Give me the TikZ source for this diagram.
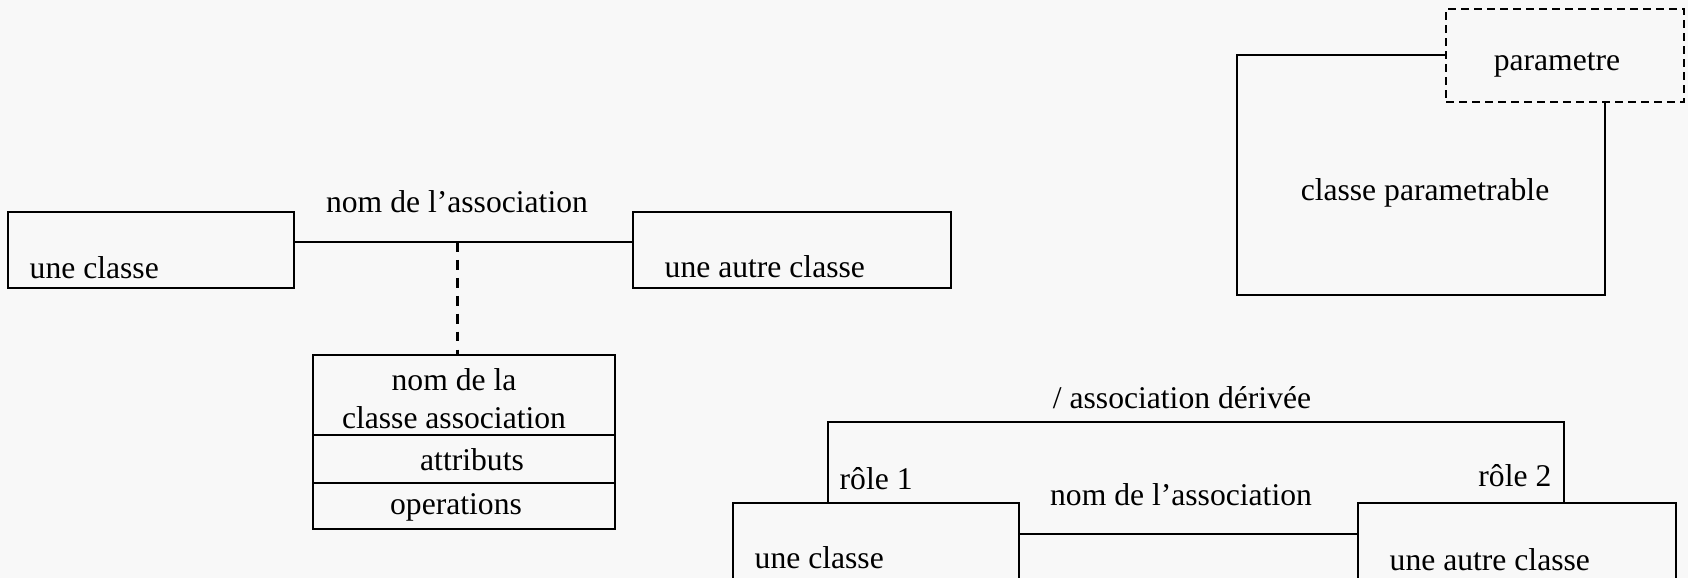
\documentclass[tikz,border=0pt]{standalone}
\usepackage{fontspec}
\setmainfont{Liberation Serif}
\usetikzlibrary{positioning, calc}
\definecolor{fondgris}{HTML}{F8F8F8}

\begin{document}
\begin{tikzpicture}[
    every node/.style={font=\fontsize{9}{10.8}\selectfont},
    classe/.style={rectangle, draw, line width=0.75pt, inner sep=0pt, fill=fondgris},
    txt/.style={inner sep=0pt, align=center},
    lien/.style={line width=0.75pt},
    pointille/.style={line width=0.75pt, dash pattern=on 2.8pt off 2.3pt}
]
\clip (0,0) rectangle (16.88,-5.78);
\fill[fondgris] (0,0) rectangle (16.88,-5.78);

% Association simple + classe association
\node[classe, minimum width=2.86cm, minimum height=0.76cm] at (1.51,-2.50) (cls-a) {};
\node[classe, minimum width=3.18cm, minimum height=0.76cm] at (7.92,-2.50) (cls-b) {};
\node[txt, anchor=west] at (0.29,-2.68) (cls-a-txt) {une classe};
\node[txt, anchor=west] at (6.64,-2.67) (cls-b-txt) {une autre classe};
\coordinate (m1) at (4.575,-2.42);
\draw[lien] (cls-a.east |- m1) -- (cls-b.west |- m1);
\node[txt] at (4.57,-2.02) (asc-lbl) {nom de l’association};

\node[classe, minimum width=3.02cm, minimum height=0.80cm] at (4.64,-3.95) (asc-nom) {};
\node[classe, minimum width=3.02cm, minimum height=0.48cm] at (4.64,-4.59) (asc-att) {};
\node[classe, minimum width=3.02cm, minimum height=0.46cm] at (4.64,-5.06) (asc-op) {};
\node[txt] at (4.54,-3.99) (asc-nom-txt) {nom de la\\classe association};
\node[txt] at (4.72,-4.60) (asc-att-txt) {attributs};
\node[txt] at (4.56,-5.07) (asc-op-txt) {operations};
\draw[pointille] (m1) -- (m1 |- asc-nom.north);

% Classe parametrable
\node[classe, minimum width=3.68cm, minimum height=2.40cm] at (14.21,-1.75) (param-cls) {};
\node[classe, pointille, minimum width=2.38cm, minimum height=0.93cm,
      dash pattern=on 2.2pt off 1.5pt] at (15.65,-0.555) (param) {};
\node[txt] at (15.57,-0.65) (param-txt) {parametre};
\node[txt] at (14.25,-1.93) (param-cls-txt) {classe parametrable};

% Association derivee
\node[classe, minimum width=2.86cm, minimum height=0.90cm] at (8.76,-5.48) (der-a) {};
\node[classe, minimum width=3.18cm, minimum height=0.90cm] at (15.17,-5.48) (der-b) {};
\node[txt, anchor=west] at (7.54,-5.58) (der-a-txt) {une classe};
\node[txt, anchor=west] at (13.89,-5.60) (der-b-txt) {une autre classe};
\coordinate (m2) at (11.87,-5.34);
\draw[lien] (der-a.east |- m2) -- (der-b.west |- m2);
\node[txt] at (11.81,-4.95) (der-lbl) {nom de l’association};

\coordinate (d1) at (8.28,-4.22);
\coordinate (d2) at (15.64,-4.22);
\draw[lien] (d1 |- der-a.north) -- (d1) -- (d2) -- (d2 |- der-b.north);
\node[txt] at (11.82,-3.98) (derivee) {/ association dérivée};
\node[txt, anchor=west] at (8.39,-4.79) (role-1) {rôle 1};
\node[txt, anchor=east] at (15.52,-4.76) (role-2) {rôle 2};

\end{tikzpicture}
\end{document}
